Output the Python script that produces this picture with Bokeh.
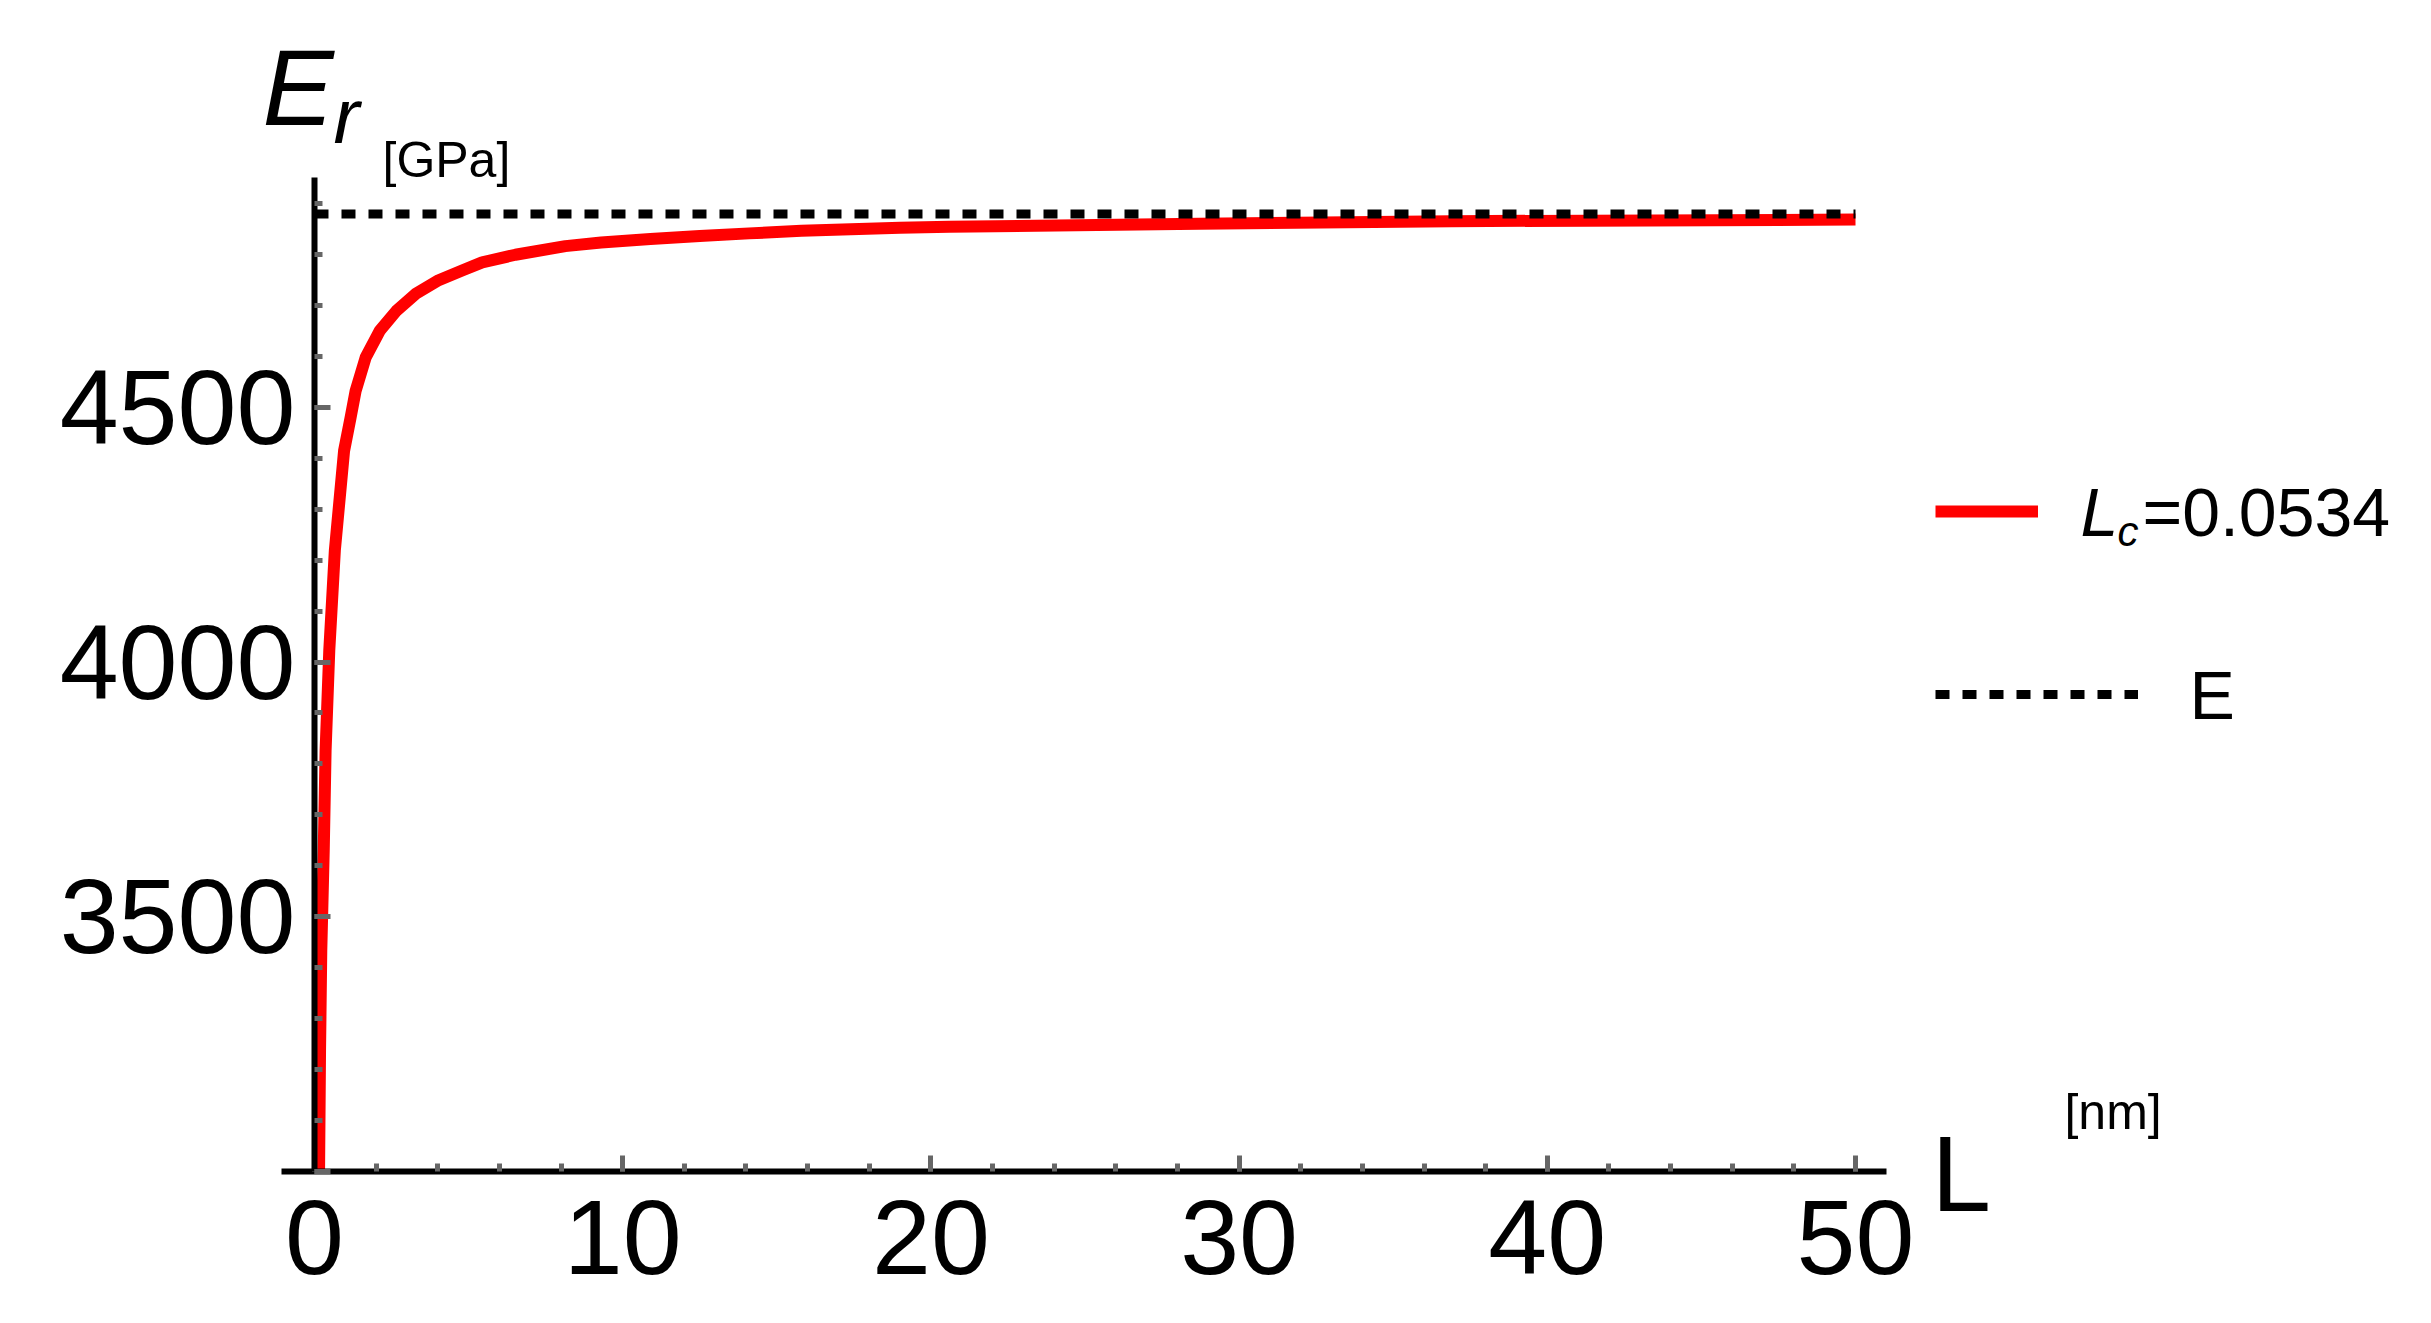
from bokeh.plotting import figure
from bokeh.models import FixedTicker, Label, Legend, LegendItem, Range1d
from bokeh.embed import file_html
from bokeh.resources import INLINE

# ---- data ----
L_nm = [0.148, 0.18, 0.22, 0.30, 0.36, 0.48, 0.66, 0.96, 1.174, 1.336, 1.665, 2.12,
        2.66, 3.28, 4.03, 4.79, 5.44, 6.52, 8.14, 9.3, 10.9, 12.5, 14.1, 15.8,
        17.4, 19.0, 20.6, 28.7, 36.9, 50.0]
Er_GPa = [3000, 3237, 3433, 3630, 3826, 4023, 4219, 4415, 4481, 4533, 4599, 4651,
          4690, 4723, 4750, 4769, 4785, 4800, 4817, 4824, 4831, 4837, 4842, 4847,
          4850, 4853, 4855, 4861, 4866, 4869]
E_x = [0, 50]
E_y = [4880, 4880]

x_major = [0, 10, 20, 30, 40, 50]
x_minor = [v for v in range(0, 51, 2)]
y_major = [3000, 3500, 4000, 4500]
y_minor = [v for v in range(3000, 4951, 100)]
x_axis_bounds = (-1.07, 51.0)
y_axis_bounds = (3000, 4952)

FONT = "Liberation Sans"

p = figure(width=2415, height=1307,
           x_range=Range1d(-10.188, 68.170), y_range=Range1d(2732.2, 5299.4),
           output_backend="svg", toolbar_location=None,
           min_border_left=0, min_border_top=0, min_border_right=0,
           min_border_bottom=0)
p.title.visible = False
p.xgrid.visible = False
p.ygrid.visible = False
p.outline_line_color = None
p.background_fill_color = "white"
p.border_fill_color = "white"

r_red = p.line(L_nm, Er_GPa, line_color="#ff0000", line_width=12, line_join="round")
r_E = p.line(E_x, E_y, line_color="black", line_width=9, line_dash="14 13")

for ax, ticks, minor in ((p.xaxis[0], x_major, x_minor), (p.yaxis[0], y_major, y_minor)):
    ax.ticker = FixedTicker(ticks=ticks, minor_ticks=minor)
    ax.axis_line_width = 6
    ax.axis_line_color = "black"
    ax.major_tick_line_color = "#666666"
    ax.major_tick_line_width = 5
    ax.major_tick_in = 16
    ax.major_tick_out = 0
    ax.minor_tick_line_color = "#666666"
    ax.minor_tick_line_width = 5
    ax.minor_tick_in = 8
    ax.minor_tick_out = 0
    ax.major_label_text_font = FONT
    ax.major_label_text_font_size = "106px"
    ax.major_label_text_color = "black"

p.xaxis.fixed_location = 3000
p.xaxis.bounds = x_axis_bounds
p.yaxis.fixed_location = 0
p.yaxis.bounds = y_axis_bounds
p.yaxis.major_label_overrides = {3000: ""}
p.yaxis.major_label_standoff = 19
p.xaxis.major_label_standoff = 30

def lab(x, y, t, size, style="normal"):
    p.add_layout(Label(x=x, y=y, text=t, text_font=FONT, text_font_size=size,
                       text_font_style=style, text_color="black",
                       text_baseline="alphabetic", text_align="left"))

lab(-1.687, 5127.6, "E", "107px", "italic")
lab(0.6165, 5072.2, "r", "78px", "italic")
lab(2.206, 4986.7, "[GPa]", "50px")
lab(52.466, 2994.4, "L", "107px")
lab(56.78, 3116.2, "[nm]", "50px")
lab(57.30, 4295.3, "L", "68px", "italic")
lab(58.50, 4256.4, "c", "42px", "italic")
lab(59.31, 4295.3, "=0.0534", "68px")
lab(60.84, 3935.9, "E", "68px")

common = dict(glyph_height=40, label_height=40, label_width=0, label_standoff=0,
              padding=0, margin=0, spacing=0, border_line_color=None,
              background_fill_alpha=0, label_text_font_size="1px")
leg1 = Legend(items=[LegendItem(label=" ", renderers=[r_red])], location=(1935, 776),
              glyph_width=103, **common)
leg2 = Legend(items=[LegendItem(label=" ", renderers=[r_E])], location=(1935, 593),
              glyph_width=203, **common)
p.add_layout(leg1)
p.add_layout(leg2)

open("out.html", "w").write(file_html(p, INLINE))
